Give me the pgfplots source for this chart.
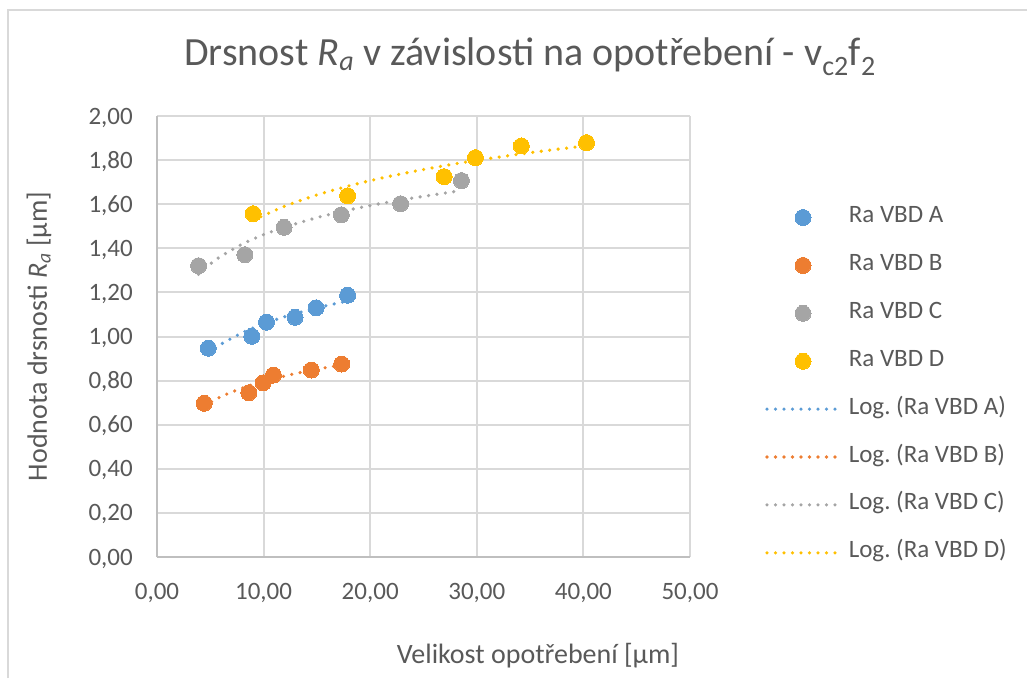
\documentclass[border=0pt]{standalone}
\usepackage{fontspec}
\setmainfont{Carlito}
\usepackage{pgfplots}
\pgfplotsset{compat=1.18}
\frenchspacing
\definecolor{cA}{HTML}{5B9BD5}
\definecolor{cB}{HTML}{ED7D31}
\definecolor{cC}{HTML}{A5A5A5}
\definecolor{cD}{HTML}{FFC000}
\definecolor{txt}{HTML}{595959}
\definecolor{grd}{HTML}{D9D9D9}
\definecolor{axl}{HTML}{BFBFBF}
\pgfplotsset{
  markstyle/.style={color=#1, only marks, mark=*, mark size=8pt, mark options={draw=#1, fill=#1, line width=0pt},
    legend image code/.code={\path (0pt,0pt) (70pt,0pt); \draw[##1] plot coordinates {(36pt,0pt)};}},
  trendstyle/.style={draw=#1, line width=3.6pt, line cap=round, dash pattern=on 0pt off 8.5pt, smooth, no marks,
    legend image code/.code={\draw[##1] (0pt,0pt) -- (70pt,0pt);}},
}
\begin{document}
\begin{tikzpicture}[x=1pt,y=1pt]
\path[use as bounding box] (0,0) rectangle (1027,678);
\draw[grd, line width=1.5pt] (8,0) -- (8,668) -- (1027,668);
\begin{axis}[
  at={(157pt,121pt)}, anchor=south west, scale only axis,
  width=533pt, height=441pt,
  xmin=0, xmax=50, ymin=0, ymax=2,
  xtick={0,10,20,30,40,50},
  ytick={0,0.2,0.4,0.6,0.8,1,1.2,1.4,1.6,1.8,2},
  axis x line*=bottom, axis y line*=left,
  axis line style={axl, line width=2pt, -},
  every outer x axis line/.append style={-},
  every outer y axis line/.append style={-},
  grid=major, major grid style={grd, line width=2pt},
  major tick length=0pt, tick style={draw=none},
  /pgf/number format/fixed, /pgf/number format/fixed zerofill,
  /pgf/number format/precision=2, /pgf/number format/use comma,
  /pgf/number format/assume math mode=true,
  yticklabel style={anchor=base east, inner sep=0pt, xshift=-24pt, yshift=-8pt, font=\fontsize{25}{30}\selectfont, text=txt},
  xticklabel style={anchor=base, inner sep=0pt, yshift=-42pt, font=\fontsize{25}{30}\selectfont, text=txt},
  title={Drsnost \textit{R\textsubscript{a}} v závislosti na opotřebení - v\textsubscript{c2}f\textsubscript{2}},
  title style={at={(axis description cs:0.6998,1.0998)}, anchor=base, font=\fontsize{40}{48}\selectfont, text=txt, inner sep=0pt},
  xlabel={Velikost opotřebení [µm]},
  every axis x label/.style={at={(axis description cs:0.7148,-0.2404)}, anchor=base, font=\fontsize{28}{34}\selectfont, text=txt, inner sep=0pt},
  ylabel={Hodnota drsnosti \textit{R\textsubscript{a}} [µm]},
  every axis y label/.style={at={(axis description cs:-0.2064,0.5)}, rotate=90, anchor=base, font=\fontsize{28}{34}\selectfont, text=txt, inner sep=0pt},
  legend style={at={(axis description cs:1.1351,0.802)}, anchor=north west, draw=none, fill=none,
    font=\fontsize{25}{30}\selectfont, text=txt,
    nodes={inner sep=0pt, text height=17pt, text depth=7pt},
    row sep=23.9pt, /tikz/every odd column/.append style={column sep=10pt}},
  legend cell align=left,
]
\addplot[markstyle=cA] coordinates {(4.81,0.947) (8.89,1.001) (10.27,1.065) (12.95,1.087) (14.92,1.130) (17.88,1.187)};
\addlegendentry{Ra VBD A}
\addplot[markstyle=cB] coordinates {(4.43,0.697) (8.61,0.745) (9.95,0.790) (10.92,0.825) (14.48,0.848) (17.32,0.875)};
\addlegendentry{Ra VBD B}
\addplot[markstyle=cC] coordinates {(3.90,1.321) (8.24,1.371) (11.92,1.495) (17.29,1.552) (22.85,1.602) (28.56,1.707)};
\addlegendentry{Ra VBD C}
\addplot[markstyle=cD] coordinates {(9.02,1.557) (17.88,1.638) (26.94,1.725) (29.87,1.811) (34.18,1.864) (40.29,1.879)};
\addlegendentry{Ra VBD D}
\addplot[trendstyle=cA] coordinates {(4.81,0.926) (6,0.965) (8,1.017) (10,1.057) (12,1.090) (14,1.117) (16,1.141) (17.88,1.161)};
\addlegendentry{Log. (Ra VBD A)}
\addplot[trendstyle=cB] coordinates {(4.43,0.685) (6,0.727) (8,0.766) (10,0.796) (12,0.821) (14,0.842) (16,0.860) (17.32,0.870)};
\addlegendentry{Log. (Ra VBD B)}
\addplot[trendstyle=cC] coordinates {(3.90,1.282) (5,1.329) (6,1.364) (8,1.419) (10,1.462) (12,1.496) (15,1.539) (18,1.574) (21,1.603) (24,1.628) (28.56,1.662)};
\addlegendentry{Log. (Ra VBD C)}
\addplot[trendstyle=cD] coordinates {(9.02,1.527) (12,1.591) (15,1.642) (18,1.683) (21,1.718) (24,1.748) (27,1.775) (30,1.799) (33,1.820) (36,1.840) (40.29,1.865)};
\addlegendentry{Log. (Ra VBD D)}
\end{axis}
\end{tikzpicture}
\end{document}
